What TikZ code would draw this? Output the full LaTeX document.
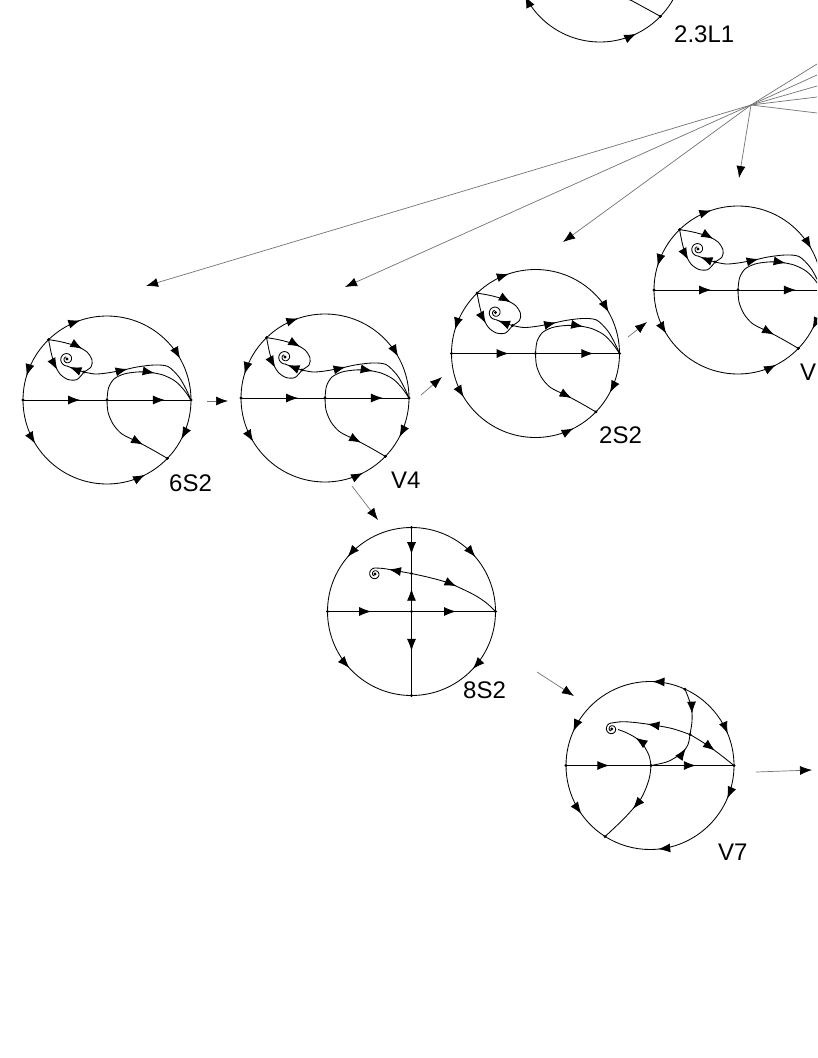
\documentclass[tikz,border=0pt]{standalone}
\usepackage{fontspec}
\setmainfont{Liberation Sans}
\usetikzlibrary{arrows.meta,decorations.markings}
\tikzset{
  orbit/.style={line width=0.85pt, draw=black},
  arrowat/.style={postaction={decorate,decoration={markings,mark=at position #1 with {\arrow{Latex[length=12pt,width=9pt]}}}}},
  dotpt/.style={circle, fill=black, inner sep=0pt, minimum size=3.2pt},
  link/.style={draw=black!55, line width=0.7pt, -{Latex[length=12pt,width=9pt,color=black]}},
  fanline/.style={draw=black!55, line width=0.7pt},
  lab/.style={font=\fontsize{24}{24}\selectfont, inner sep=0pt, anchor=base west},
}
% portrait of type A: #1 centre, #2 name prefix
\newcommand\portA[2]{%
\begin{scope}[shift={#1}]
  \draw[orbit, arrowat=0.19, arrowat=0.78] (226:84) arc[start angle=226,end angle=360,radius=84];
  \draw[orbit, arrowat=0.64] (226:84) arc[start angle=226,end angle=180,radius=84];
  \draw[orbit, arrowat=0.23, arrowat=0.86] (180:84) arc[start angle=180,end angle=44,radius=84];
  \draw[orbit, arrowat=0.63] (0:84) arc[start angle=0,end angle=44,radius=84];
  \draw[orbit, arrowat=0.68] (-84,0) -- (0,0);
  \draw[orbit, arrowat=0.69] (0,0) -- (84,0);
  \draw[orbit, arrowat=0.53] plot[smooth] coordinates {(-58.4,-60.4) (-45,-58) (-30,-53.7) (-20,-48) (-15,-40) (-16,-33) (-23,-28)};
  \draw[orbit, arrowat=0.48] plot[smooth] coordinates {(-58.4,-60.4) (-56,-48) (-52.7,-36.3) (-47,-26) (-39,-20.5) (-30,-20.5) (-23,-28)};
  \draw[orbit, arrowat=0.85] plot[smooth] coordinates {(-23,-28) (-31,-30.5) (-40,-34)};
  \draw[orbit] plot[domain=0:520,samples=80,smooth,variable=\t] ({-40+(7-\t/110)*cos(90+\t)},{-41+(7-\t/110)*sin(90+\t)});
  \draw[orbit, arrowat=0.35] plot[smooth] coordinates {(-23,-28) (-12,-26) (0,-27) (15,-29.7) (30,-33) (47,-35) (61,-33.5) (72,-23) (79,-11) (84,0)};
  \draw[orbit, arrowat=0.58] plot[smooth] coordinates {(0,0) (1.5,-12) (7,-21) (17,-26) (30,-28) (42,-27.8) (56,-25) (68,-19) (77,-10) (84,0)};
  \draw[orbit, arrowat=0.69] plot[smooth] coordinates {(0,0) (1,12) (6,24) (15,34) (31,42) (45,49.5) (60.4,58.4)};
  \node[dotpt] (#2S) at (226:84) {};
  \node[dotpt] (#2L) at (-84,0) {};
  \node[dotpt] (#2R) at (84,0) {};
  \node[dotpt] (#2O) at (0,0) {};
  \node[dotpt] (#2Q) at (44:84) {};
  \node[dotpt] (#2P) at (-23,-28) {};
  \node[dotpt] (#2F) at (-40,-41) {};
\end{scope}}
\begin{document}
\begin{tikzpicture}[x=1pt,y=-1pt]
\useasboundingbox (0,0) rectangle (817,1058);
\fill[white] (0,0) rectangle (817,1058);
\clip (0,0) rectangle (817,1058);

% partial portrait 2.3L1
\begin{scope}[shift={(600,-42)}]
  \draw[orbit, arrowat=0.69] (110:84) arc[start angle=110,end angle=44,radius=84];
  \draw[orbit, arrowat=0.48] (110:84) arc[start angle=110,end angle=200,radius=84];
  \draw[orbit] (44:84) arc[start angle=44,end angle=-160,radius=84];
  \draw[orbit, arrowat=0.49] (5,28) -- (44:84);
  \node[dotpt] (tD) at (44:84) {};
\end{scope}
\node[lab] (l231) at (674,42.7) {2.3L1};

% fan
\coordinate (fan) at (751,105);
\coordinate (r1) at (817,64);
\coordinate (r2) at (817,75);
\coordinate (r3) at (817,86);
\coordinate (r4) at (817,97);
\coordinate (r5) at (817,113);
\foreach \r in {r1,r2,r3,r4,r5} \draw[fanline] (fan) -- (\r);
\coordinate (f6) at (146,286);
\coordinate (f4) at (345,287);
\coordinate (f2) at (563,242);
\coordinate (fv) at (739,178);
\draw[link] (fan) -- (f6);
\draw[link] (fan) -- (f4);
\draw[link] (fan) -- (f2);
\draw[link] (fan) -- (fv);

% type A portraits
\portA{(107,400)}{s6}
\node[lab] (l6) at (169,491.7) {6S2};
\portA{(325,398)}{v4}
\node[lab] (l4) at (391,488) {V4};
\portA{(535.5,353.5)}{s2}
\node[lab] (l2) at (599,443) {2S2};
\portA{(738,290)}{vv}
\node[lab] (lv) at (800,380) {V};

% 8S2
\begin{scope}[shift={(411.5,611.5)}]
  \draw[orbit, arrowat=0.55] (270:84) arc[start angle=270,end angle=180,radius=84];
  \draw[orbit, arrowat=0.55] (270:84) arc[start angle=270,end angle=360,radius=84];
  \draw[orbit, arrowat=0.47] (180:84) arc[start angle=180,end angle=90,radius=84];
  \draw[orbit, arrowat=0.48] (0:84) arc[start angle=0,end angle=90,radius=84];
  \draw[orbit, arrowat=0.52] (-84,0) -- (0,0);
  \draw[orbit, arrowat=0.53] (0,0) -- (84,0);
  \draw[orbit, arrowat=0.58] (0,-84) -- (0,-38);
  \draw[orbit, arrowat=0.6] (0,0) -- (0,-38);
  \draw[orbit, arrowat=0.47] (0,0) -- (0,84);
  \draw[orbit, arrowat=0.5] plot[smooth] coordinates {(0,-38) (20,-33.5) (38.5,-28) (62,-17) (75,-8.5) (84,0)};
  \draw[orbit, arrowat=0.62] plot[smooth] coordinates {(0,-38) (-16.5,-41) (-28,-43) (-36.5,-43.5)};
  \draw[orbit] plot[domain=0:520,samples=80,smooth,variable=\t] ({-36.5+(6-\t/130)*cos(270-\t)},{-37.5+(6-\t/130)*sin(270-\t)});
  \node[dotpt] (eT) at (0,-84) {};
  \node[dotpt] (eB) at (0,84) {};
  \node[dotpt] (eL) at (-84,0) {};
  \node[dotpt] (eR) at (84,0) {};
  \node[dotpt] (eO) at (0,0) {};
  \node[dotpt] (eX) at (0,-38) {};
  \node[dotpt] (eF) at (-36.5,-37.5) {};
\end{scope}
\node[lab] (l8) at (463,698) {8S2};

% V7
\begin{scope}[shift={(650,765.5)}]
  \draw[orbit, arrowat=0.2, arrowat=0.79] (294.6:84) arc[start angle=294.6,end angle=180,radius=84];
  \draw[orbit, arrowat=0.66] (294.6:84) arc[start angle=294.6,end angle=360,radius=84];
  \draw[orbit, arrowat=0.19, arrowat=0.69] (0:84) arc[start angle=0,end angle=122.3,radius=84];
  \draw[orbit, arrowat=0.61] (180:84) arc[start angle=180,end angle=122.3,radius=84];
  \draw[orbit, arrowat=0.51] (-84,0) -- (1,0);
  \draw[orbit, arrowat=0.54] (1,0) -- (84,0);
  \draw[orbit, arrowat=0.55] plot[smooth] coordinates {(34.97,-76.37) (39,-66) (41.7,-56) (42,-44) (40,-31)};
  \draw[orbit, arrowat=0.73] plot[smooth] coordinates {(1,0) (18,-4) (31.7,-12.5) (38,-21) (40,-31)};
  \draw[orbit, arrowat=0.55] plot[smooth] coordinates {(40,-31) (50,-25) (60,-18.5) (72,-9.5) (84,0)};
  \draw[orbit, arrowat=0.55] plot[smooth] coordinates {(40,-31) (22,-37) (3.3,-40.5) (-15,-43) (-28,-43.8) (-38.3,-42.5)};
  \draw[orbit] plot[domain=0:520,samples=80,smooth,variable=\t] ({-38.3+(6-\t/130)*cos(270-\t)},{-36.5+(6-\t/130)*sin(270-\t)});
  \draw[orbit, arrowat=0.63] plot[smooth] coordinates {(1,0) (-1,-10) (-6.7,-20.5) (-14,-27.5) (-24,-33) (-32,-36)};
  \draw[orbit, arrowat=0.55] plot[smooth] coordinates {(1,0) (-1,14) (-9,33) (-25,52) (-44.9,71)};
  \node[dotpt] (wL) at (-84,0) {};
  \node[dotpt] (wR) at (84,0) {};
  \node[dotpt] (wO) at (1,0) {};
  \node[dotpt] (wT) at (34.97,-76.37) {};
  \node[dotpt] (wB) at (-44.9,71) {};
  \node[dotpt] (wX) at (40,-31) {};
  \node[dotpt] (wF) at (-38.3,-36.5) {};
\end{scope}
\node[lab] (l7) at (718,860) {V7};

% short connectors
\coordinate (a1s) at (207,401); \coordinate (a1e) at (228,401);
\coordinate (a2s) at (421,395); \coordinate (a2e) at (442,377);
\coordinate (a3s) at (628,337); \coordinate (a3e) at (647,322);
\coordinate (a4s) at (352,486); \coordinate (a4e) at (378,520);
\coordinate (a5s) at (537,672); \coordinate (a5e) at (574,696);
\coordinate (a6s) at (756,772); \coordinate (a6e) at (812,770);
\draw[link] (a1s) -- (a1e);
\draw[link] (a2s) -- (a2e);
\draw[link] (a3s) -- (a3e);
\draw[link] (a4s) -- (a4e);
\draw[link] (a5s) -- (a5e);
\draw[link] (a6s) -- (a6e);
\end{tikzpicture}
\end{document}
